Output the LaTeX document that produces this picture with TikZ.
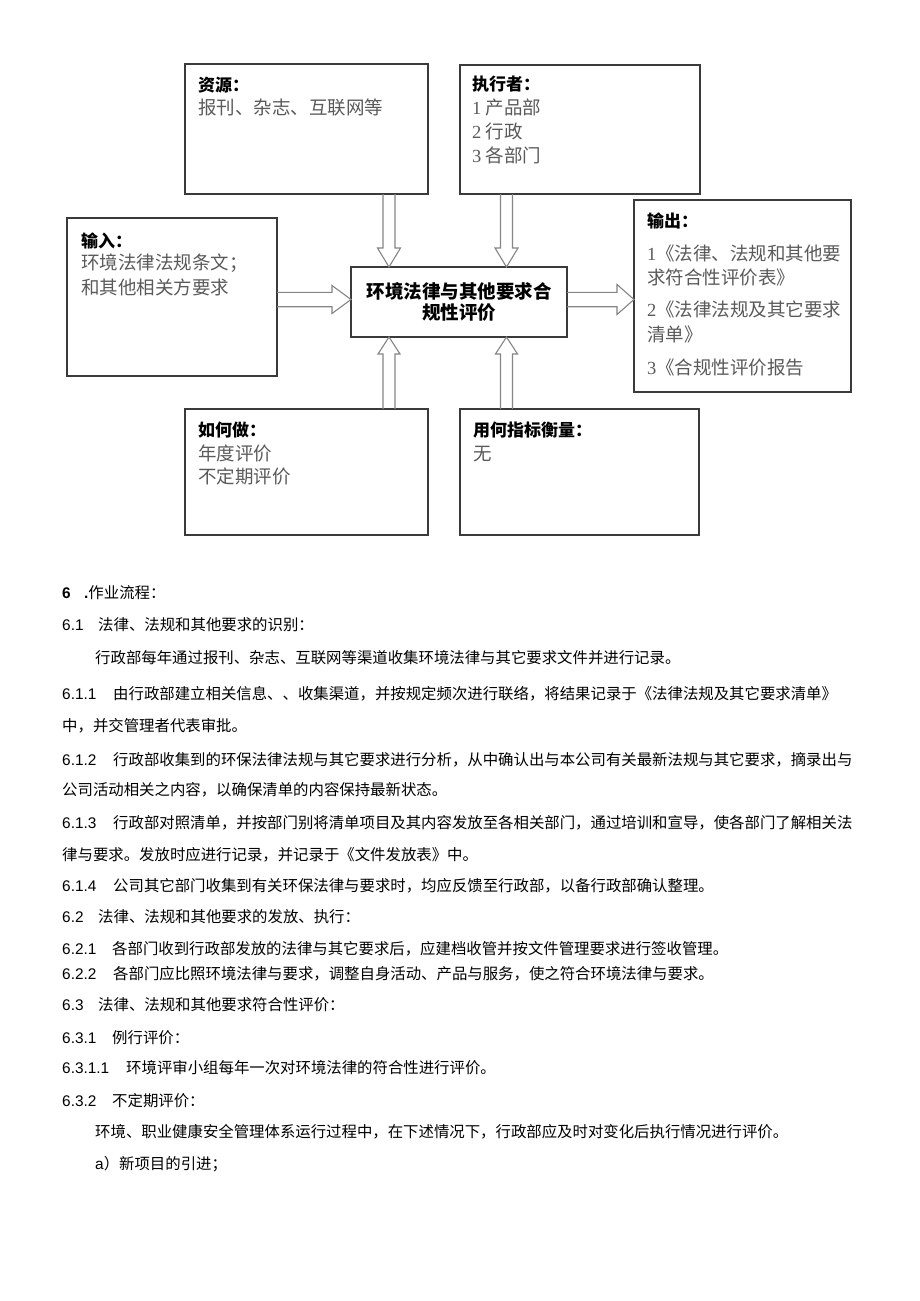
\documentclass[tikz,border=0pt]{standalone}
\usepackage{fontspec}
\setmainfont{Liberation Sans}
\newfontfamily\cjk{Noto Sans CJK SC}
\newfontfamily\tnr{Liberation Serif}
\usetikzlibrary{calc}
\definecolor{boxline}{HTML}{3A3A3A}
\definecolor{arrline}{HTML}{858585}
\definecolor{boxtext}{HTML}{5A5A5A}
\tikzset{
  box/.style={draw=boxline, line width=1.4pt, inner sep=0pt, outer sep=0pt, anchor=north west},
  blk/.style={draw=arrline, line width=1.1pt, line join=miter},
  ttl/.style={anchor=base west, inner sep=0pt, font=\cjk\bfseries\fontsize{17}{20}\selectfont, text=black},
  cnt/.style={anchor=base west, inner sep=0pt, font=\cjk\fontsize{18.5}{22}\selectfont, text=boxtext},
  body/.style={anchor=base west, inner sep=0pt, font=\cjk\fontsize{15.4}{18}\selectfont, text=black},
  num/.style={anchor=base west, inner sep=0pt, font=\fontsize{15.4}{18}\selectfont, text=black}
}
\newcommand\dg[1]{{\tnr #1}}
\begin{document}
\begin{tikzpicture}[x=1pt,y=-1pt]
\path[use as bounding box, fill=white] (0,0) rectangle (920,1301);

% boxes
\node[box, minimum width=243pt, minimum height=130pt] (res) at (185,64) {};
\node[box, minimum width=240pt, minimum height=129pt] (exe) at (460,65) {};
\node[box, minimum width=210pt, minimum height=158pt] (inp) at (67,218) {};
\node[box, minimum width=217pt, minimum height=192pt] (out) at (634,200) {};
\node[box, minimum width=243pt, minimum height=126pt] (how) at (185,409) {};
\node[box, minimum width=239pt, minimum height=126pt] (met) at (460,409) {};
\node[box, minimum width=216pt, minimum height=70pt, align=center,
      font=\cjk\bfseries\fontsize{18.5}{21}\selectfont] (ctr) at (351,267)
      {环境法律与其他要求合\\规性评价};

% arrow axes
\coordinate (ax1) at (389,0);
\coordinate (ax2) at (506.5,0);
\coordinate (ay) at (0,299.5);

% down arrows
\draw[blk] let \p1=(ax1 |- res.south), \p2=(ax1 |- ctr.north) in
  (\x1-6pt,\y1) -- (\x1-6pt,\y2+19pt) -- (\x1-11.5pt,\y2+19pt) -- (\x2,\y2)
  -- (\x1+11.5pt,\y2+19pt) -- (\x1+6pt,\y2+19pt) -- (\x1+6pt,\y1);
\draw[blk] let \p1=(ax2 |- exe.south), \p2=(ax2 |- ctr.north) in
  (\x1-6pt,\y1) -- (\x1-6pt,\y2+19pt) -- (\x1-11.5pt,\y2+19pt) -- (\x2,\y2)
  -- (\x1+11.5pt,\y2+19pt) -- (\x1+6pt,\y2+19pt) -- (\x1+6pt,\y1);
% up arrows
\draw[blk] let \p1=(ax1 |- how.north), \p2=(ax1 |- ctr.south) in
  (\x1-6pt,\y1) -- (\x1-6pt,\y2-17pt) -- (\x1-11pt,\y2-17pt) -- (\x2,\y2)
  -- (\x1+11pt,\y2-17pt) -- (\x1+6pt,\y2-17pt) -- (\x1+6pt,\y1);
\draw[blk] let \p1=(ax2 |- met.north), \p2=(ax2 |- ctr.south) in
  (\x1-6pt,\y1) -- (\x1-6pt,\y2-17pt) -- (\x1-11pt,\y2-17pt) -- (\x2,\y2)
  -- (\x1+11pt,\y2-17pt) -- (\x1+6pt,\y2-17pt) -- (\x1+6pt,\y1);
% right arrows
\draw[blk] let \p1=(ay -| inp.east), \p2=(ay -| ctr.west) in
  (\x1,\y1+7.2pt) -- (\x2-19pt,\y1+7.2pt) -- (\x2-19pt,\y1+14pt) -- (\x2,\y1)
  -- (\x2-19pt,\y1-14pt) -- (\x2-19pt,\y1-7.2pt) -- (\x1,\y1-7.2pt);
\draw[blk] let \p1=(ay -| ctr.east), \p2=(ay -| out.west) in
  (\x1,\y1+7.2pt) -- (\x2-17pt,\y1+7.2pt) -- (\x2-17pt,\y1+15pt) -- (\x2,\y1)
  -- (\x2-17pt,\y1-15pt) -- (\x2-17pt,\y1-7.2pt) -- (\x1,\y1-7.2pt);

% box texts
\node[ttl] (t1) at (198,91) {资源：};
\node[cnt] (c1) at (198,114) {报刊、杂志、互联网等};

\node[ttl] (t2) at (472,90) {执行者：};
\node[cnt] (c21) at (472,114) {\dg{1} 产品部};
\node[cnt] (c22) at (472,138) {\dg{2} 行政};
\node[cnt] (c23) at (472,162) {\dg{3} 各部门};

\node[ttl] (t3) at (81,247) {输入：};
\node[cnt] (c31) at (81,269) {环境法律法规条文；};
\node[cnt] (c32) at (81,294) {和其他相关方要求};

\node[ttl] (t4) at (647,227) {输出：};
\node[cnt] (c41) at (647,260) {\dg{1}《法律、法规和其他要};
\node[cnt] (c42) at (647,284) {求符合性评价表》};
\node[cnt] (c43) at (647,316) {\dg{2}《法律法规及其它要求};
\node[cnt] (c44) at (647,341) {清单》};
\node[cnt] (c45) at (647,374) {\dg{3}《合规性评价报告};

\node[ttl] (t5) at (198,436) {如何做：};
\node[cnt] (c51) at (198,460) {年度评价};
\node[cnt] (c52) at (198,483) {不定期评价};

\node[ttl] (t6) at (473,436) {用何指标衡量：};
\node[cnt] (c61) at (473,460) {无};

% body text
\node[num, font=\bfseries\fontsize{15.4}{18}\selectfont] (n6) at (62,598) {6};
\node[body] (b6) at (84,598) {{\bfseries\rmfamily .}作业流程：};

\node[num] (n61) at (62,630) {6.1};
\node[body] (b61) at (98,630) {法律、法规和其他要求的识别：};
\node[body] (b61a) at (95,663) {行政部每年通过报刊、杂志、互联网等渠道收集环境法律与其它要求文件并进行记录。};

\node[num] (n611) at (62,699) {6.1.1};
\node[body] (b611) at (113,699) {由行政部建立相关信息、、收集渠道，并按规定频次进行联络，将结果记录于《法律法规及其它要求清单》};
\node[body] (b611b) at (62,731) {中，并交管理者代表审批。};

\node[num] (n612) at (62,765) {6.1.2};
\node[body] (b612) at (113,765) {行政部收集到的环保法律法规与其它要求进行分析，从中确认出与本公司有关最新法规与其它要求，摘录出与};
\node[body] (b612b) at (62,795) {公司活动相关之内容，以确保清单的内容保持最新状态。};

\node[num] (n613) at (62,828) {6.1.3};
\node[body] (b613) at (113,828) {行政部对照清单，并按部门别将清单项目及其内容发放至各相关部门，通过培训和宣导，使各部门了解相关法};
\node[body] (b613b) at (62,860) {律与要求。发放时应进行记录，并记录于《文件发放表》中。};

\node[num] (n614) at (62,891) {6.1.4};
\node[body] (b614) at (113,891) {公司其它部门收集到有关环保法律与要求时，均应反馈至行政部，以备行政部确认整理。};

\node[num] (n62) at (62,922) {6.2};
\node[body] (b62) at (98,922) {法律、法规和其他要求的发放、执行：};

\node[num] (n621) at (62,954) {6.2.1};
\node[body] (b621) at (112,954) {各部门收到行政部发放的法律与其它要求后，应建档收管并按文件管理要求进行签收管理。};

\node[num] (n622) at (62,979) {6.2.2};
\node[body] (b622) at (113,979) {各部门应比照环境法律与要求，调整自身活动、产品与服务，使之符合环境法律与要求。};

\node[num] (n63) at (62,1010) {6.3};
\node[body] (b63) at (98,1010) {法律、法规和其他要求符合性评价：};

\node[num] (n631) at (62,1043) {6.3.1};
\node[body] (b631) at (112,1043) {例行评价：};

\node[num] (n6311) at (62,1073) {6.3.1.1};
\node[body] (b6311) at (126,1073) {环境评审小组每年一次对环境法律的符合性进行评价。};

\node[num] (n632) at (62,1106) {6.3.2};
\node[body] (b632) at (112,1106) {不定期评价：};

\node[body] (b632a) at (95,1137) {环境、职业健康安全管理体系运行过程中，在下述情况下，行政部应及时对变化后执行情况进行评价。};
\node[body] (b632b) at (95,1169) {{\rmfamily a}）新项目的引进；};
\end{tikzpicture}
\end{document}
